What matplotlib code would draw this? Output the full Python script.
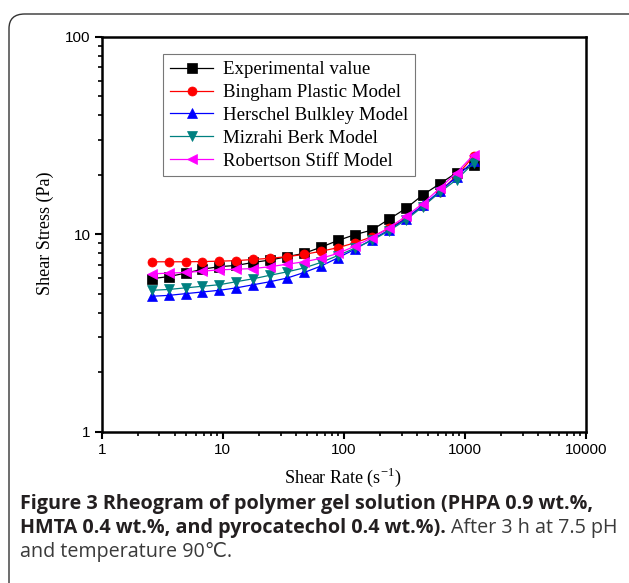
import matplotlib
matplotlib.use('Agg')
import matplotlib.pyplot as plt
from matplotlib.patches import FancyBboxPatch
from matplotlib.ticker import LogLocator, NullFormatter, FixedLocator, FixedFormatter

# shear rate (1/s)
shear_rate = [2.59, 3.57, 4.93, 6.80, 9.39, 12.97, 17.9, 24.7, 34.1, 47.0,
              64.9, 89.6, 123.6, 170.6, 235.5, 325, 449, 620, 854, 1178]

# shear stress (Pa)
experimental = [5.95, 6.1, 6.35, 6.65, 6.85, 6.95, 7.2, 7.4, 7.7, 8.0,
                8.6, 9.3, 9.95, 10.5, 11.9, 13.5, 15.8, 18.0, 20.5, 22.4]
bingham = [7.25, 7.25, 7.25, 7.27, 7.3, 7.35, 7.45, 7.55, 7.7, 7.9,
           8.2, 8.55, 9.05, 9.7, 10.7, 12.0, 13.9, 16.4, 19.8, 24.8]
herschel = [4.85, 4.9, 5.0, 5.1, 5.2, 5.35, 5.55, 5.75, 6.0, 6.4,
            6.9, 7.6, 8.4, 9.4, 10.5, 12.0, 14.0, 16.5, 19.5, 23.5]
mizrahi = [5.2, 5.25, 5.35, 5.45, 5.55, 5.75, 5.95, 6.2, 6.45, 6.75,
           7.2, 7.8, 8.5, 9.3, 10.4, 11.8, 13.8, 16.3, 18.9, 22.9]
robertson = [6.3, 6.35, 6.4, 6.5, 6.6, 6.65, 6.7, 6.85, 7.05, 7.25,
             7.55, 8.0, 8.7, 9.6, 10.8, 12.3, 14.3, 17.1, 20.5, 25.2]

x_ticks = [1, 10, 100, 1000, 10000]
x_ticklabels = ['1', '10', '100', '1000', '10000']
y_ticks = [1, 10, 100]
y_ticklabels = ['1', '10', '100']

series = [
    ('Experimental value', experimental, 'black', 's'),
    ('Bingham Plastic Model', bingham, '#ff0000', 'o'),
    ('Herschel Bulkley Model', herschel, '#0000ff', '^'),
    ('Mizrahi Berk Model', mizrahi, '#008080', 'v'),
    ('Robertson Stiff Model', robertson, '#ff00ff', '<'),
]

serif = ['Liberation Serif', 'DejaVu Serif']
sans = ['Liberation Sans', 'DejaVu Sans']

fig = plt.figure(figsize=(6.29, 5.83), dpi=100)

# rounded frame around the figure panel
frame = FancyBboxPatch((9 / 629, -0.2), 640 / 629, 1.2 - 14 / 583,
                       boxstyle='round,pad=0,rounding_size=0.025',
                       transform=fig.transFigure, facecolor='none',
                       edgecolor='#333333', linewidth=1.0, zorder=-1)
fig.patches.append(frame)

ax = fig.add_axes([101.7 / 629, 1 - 431.7 / 583, 484.3 / 629, 395 / 583])
ax.set_facecolor('none')

for name, vals, col, mk in series:
    ax.plot(shear_rate, vals, color=col, marker=mk, markersize=6.5,
            linewidth=0.9, markeredgewidth=0.5, markeredgecolor=col, label=name)

ax.set_xscale('log')
ax.set_yscale('log')
ax.set_xlim(1, 10000)
ax.set_ylim(1, 100)

ax.xaxis.set_major_locator(FixedLocator(x_ticks))
ax.xaxis.set_major_formatter(FixedFormatter(x_ticklabels))
ax.yaxis.set_major_locator(FixedLocator(y_ticks))
ax.yaxis.set_major_formatter(FixedFormatter(y_ticklabels))
ax.xaxis.set_minor_locator(LogLocator(base=10, subs=range(2, 10)))
ax.yaxis.set_minor_locator(LogLocator(base=10, subs=range(2, 10)))
ax.xaxis.set_minor_formatter(NullFormatter())
ax.yaxis.set_minor_formatter(NullFormatter())

ax.tick_params(which='major', direction='out', length=5, width=1.5,
               labelsize=11, pad=3, top=False, right=False)
ax.tick_params(which='minor', direction='out', length=3, width=1.2,
               top=False, right=False)
for lbl in ax.get_xticklabels() + ax.get_yticklabels():
    lbl.set_family(sans)

for sp in ax.spines.values():
    sp.set_linewidth(1.8)

leg = ax.legend(loc='upper left', bbox_to_anchor=(0.127, 0.955),
                prop={'family': serif, 'size': 13.6}, frameon=True,
                fancybox=False, edgecolor='#555555', handlelength=2.3,
                labelspacing=0.3, borderpad=0.35, handletextpad=0.5,
                borderaxespad=0)
leg.get_frame().set_linewidth(0.8)

fig.text(45 / 629, 1 - 233 / 583, 'Shear Stress (Pa)', rotation=90,
         ha='center', va='center', family=serif, fontsize=13)
fig.text(343 / 629, 1 - 477 / 583, 'Shear Rate (s$^{\\mathregular{-1}}$)',
         ha='center', va='center', family=serif, fontsize=13)

# caption
cap_font = ['Open Sans', 'DejaVu Sans']
cap_size = 14.2
fig.text(20 / 629, 1 - 504 / 583,
         'Figure 3 Rheogram of polymer gel solution (PHPA 0.9 wt.%,',
         ha='left', va='center', family=cap_font, fontsize=cap_size,
         fontweight='bold', color='#231f20')
t = fig.text(20 / 629, 1 - 528 / 583,
             'HMTA 0.4 wt.%, and pyrocatechol 0.4 wt.%).',
             ha='left', va='center', family=cap_font, fontsize=cap_size,
             fontweight='bold', color='#231f20')
fig.canvas.draw()
bb = t.get_window_extent()
fig.text(bb.x1 / 629 + 5 / 629, 1 - 528 / 583, 'After 3 h at 7.5 pH',
         ha='left', va='center', family=cap_font, fontsize=cap_size,
         color='#3a3a3a')
fig.text(20 / 629, 1 - 552 / 583, 'and temperature 90\u2103.',
         ha='left', va='center', family=cap_font, fontsize=cap_size,
         color='#3a3a3a')

fig.savefig('out.png', dpi=100)
